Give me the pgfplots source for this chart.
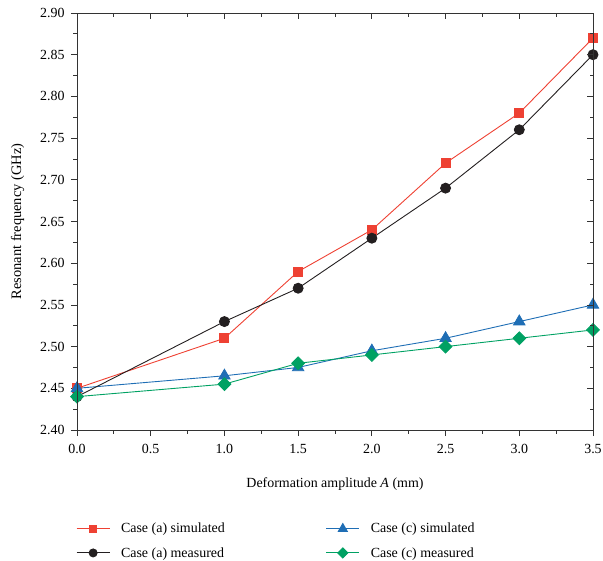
\documentclass[border=0pt]{standalone}
\usepackage{fontspec}
\setmainfont{Liberation Serif}
\usepackage{pgfplots}
\pgfplotsset{compat=1.18}
\definecolor{cred}{HTML}{EE4133}
\definecolor{cblack}{HTML}{231F20}
\definecolor{cblue}{HTML}{1F6EB5}
\definecolor{cgreen}{HTML}{00A163}
\definecolor{axgray}{HTML}{333333}
\begin{document}
\begin{tikzpicture}
\pgfplotsset{
  common/.style={
    scale only axis, width=516bp, height=417bp,
    xmin=0, xmax=3.5, ymin=2.40, ymax=2.90,
    xtick={0,0.5,...,3.5}, ytick={2.40,2.45,...,2.91},
    minor x tick num=1, minor y tick num=1,
    major tick length=6bp, minor tick length=3.5bp,
    axis line style={axgray, line width=1pt},
    every tick/.style={axgray, line width=0.8pt},
    /pgf/number format/assume math mode=true,
    font=\fontsize{14}{16}\selectfont,
  }
}
\begin{axis}[common,
  tick align=outside, xtick pos=left, ytick pos=left,
  xticklabel style={yshift=-5bp, /pgf/number format/.cd, fixed, fixed zerofill, precision=1},
  yticklabel style={xshift=-3bp, /pgf/number format/.cd, fixed, fixed zerofill, precision=2},
  xlabel={Deformation amplitude \textit{A} (mm)},
  ylabel={Resonant frequency (GHz)},
  ylabel style={font=\fontsize{14.5}{16}\selectfont},
  ylabel shift=9bp,
  xlabel style={yshift=-17bp},
  legend columns=2,
  legend cell align=left,
  legend style={draw=none, at={(axis description cs:0,0)}, anchor=north west, yshift=-89bp, xshift=-4bp,
    font=\fontsize{14}{16}\selectfont, row sep=9bp,
    /tikz/column 1/.style={column sep=9bp},
    /tikz/column 3/.style={column sep=9bp},
    /tikz/column 2/.style={column sep=99bp}},
  legend image code/.code={\draw[mark repeat=2,mark phase=2, every mark/.append style={scale=0.8}] plot coordinates {(0bp,0bp) (16.5bp,0bp) (33bp,0bp)};},
]
\addplot[cred, line width=0.9pt, mark=square*, mark size=4.5bp] coordinates {
(0,2.45) (1,2.51) (1.5,2.59) (2,2.64) (2.5,2.72) (3,2.78) (3.5,2.87)};
\addlegendentry{Case (a) simulated}
\addplot[cblue, line width=0.9pt, mark=triangle*, mark size=6.5bp] coordinates {
(0,2.45) (1,2.465) (1.5,2.475) (2,2.495) (2.5,2.51) (3,2.53) (3.5,2.55)};
\addlegendentry{Case (c) simulated}
\addplot[cblack, line width=0.9pt, mark=*, mark size=5bp] coordinates {
(0,2.44) (1,2.53) (1.5,2.57) (2,2.63) (2.5,2.69) (3,2.76) (3.5,2.85)};
\addlegendentry{Case (a) measured}
\addplot[cgreen, line width=0.9pt, mark=square*, mark size=4.5bp, mark options={rotate=45}] coordinates {
(0,2.44) (1,2.455) (1.5,2.48) (2,2.49) (2.5,2.50) (3,2.51) (3.5,2.52)};
\addlegendentry{Case (c) measured}
\end{axis}
\begin{axis}[common,
  tick align=inside, xtick pos=right, ytick pos=right,
  xticklabels={}, yticklabels={},
]
\end{axis}
\pgfresetboundingbox
\path[use as bounding box] (-77bp,-131bp) rectangle (526bp,430bp);
\end{tikzpicture}
\end{document}
